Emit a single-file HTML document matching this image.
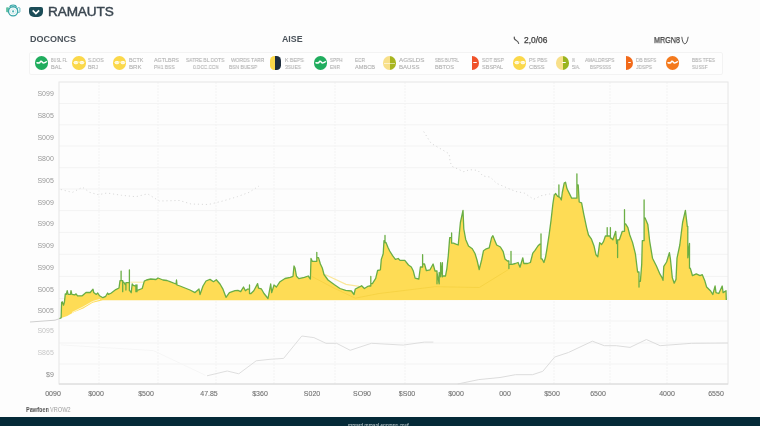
<!DOCTYPE html>
<html><head><meta charset="utf-8"><style>
html,body{margin:0;padding:0;width:760px;height:426px;overflow:hidden;background:#fdfdfd;}
body{position:relative;font-family:"Liberation Sans",sans-serif;}
.t,.yl,.xl,.lg{will-change:transform;}
.t{position:absolute;white-space:nowrap;line-height:1;}
.yl{position:absolute;left:35px;width:18.8px;text-align:right;font-size:7px;line-height:1;color:#999;}
.xl{position:absolute;top:389.5px;font-size:7px;line-height:1;color:#707070;-webkit-text-stroke:0.1px #707070;transform:translateX(-50%);white-space:nowrap;}
.lg{position:absolute;font-size:5.4px;line-height:5.4px;color:#b2b2b2;-webkit-text-stroke:0.12px #b2b2b2;white-space:nowrap;transform-origin:0 0;}
.ci{position:absolute;width:13.5px;height:13.5px;border-radius:50%;top:56px;}
#wrap{position:absolute;left:0;top:0;width:760px;height:426px;filter:blur(0.3px);}
</style></head><body><div id="wrap">
<svg width="760" height="426" viewBox="0 0 760 426" style="position:absolute;left:0;top:0">
<line x1="59" y1="103.5" x2="728" y2="103.5" stroke="#f3f3f3" stroke-width="1"/>
<line x1="59" y1="124.8" x2="728" y2="124.8" stroke="#f3f3f3" stroke-width="1"/>
<line x1="59" y1="146.0" x2="728" y2="146.0" stroke="#f3f3f3" stroke-width="1"/>
<line x1="59" y1="167.7" x2="728" y2="167.7" stroke="#f3f3f3" stroke-width="1"/>
<line x1="59" y1="189.0" x2="728" y2="189.0" stroke="#f3f3f3" stroke-width="1"/>
<line x1="59" y1="210.6" x2="728" y2="210.6" stroke="#f3f3f3" stroke-width="1"/>
<line x1="59" y1="232.4" x2="728" y2="232.4" stroke="#f3f3f3" stroke-width="1"/>
<line x1="59" y1="254.3" x2="728" y2="254.3" stroke="#f3f3f3" stroke-width="1"/>
<line x1="59" y1="276.4" x2="728" y2="276.4" stroke="#f3f3f3" stroke-width="1"/>
<line x1="59" y1="298.5" x2="728" y2="298.5" stroke="#f3f3f3" stroke-width="1"/>
<line x1="59" y1="321.0" x2="728" y2="321.0" stroke="#f3f3f3" stroke-width="1"/>
<line x1="59" y1="343.0" x2="728" y2="343.0" stroke="#f3f3f3" stroke-width="1"/>
<line x1="59" y1="364.0" x2="728" y2="364.0" stroke="#f3f3f3" stroke-width="1"/>
<line x1="99.0" y1="82" x2="99.0" y2="384" stroke="#f3f3f3" stroke-width="1" stroke-dasharray="2,1"/>
<line x1="158.0" y1="82" x2="158.0" y2="384" stroke="#f3f3f3" stroke-width="1" stroke-dasharray="2,1"/>
<line x1="216.0" y1="82" x2="216.0" y2="384" stroke="#f3f3f3" stroke-width="1" stroke-dasharray="2,1"/>
<line x1="274.0" y1="82" x2="274.0" y2="384" stroke="#f3f3f3" stroke-width="1" stroke-dasharray="2,1"/>
<line x1="335.0" y1="82" x2="335.0" y2="384" stroke="#f3f3f3" stroke-width="1" stroke-dasharray="2,1"/>
<line x1="405.0" y1="82" x2="405.0" y2="384" stroke="#f3f3f3" stroke-width="1" stroke-dasharray="2,1"/>
<line x1="554.0" y1="82" x2="554.0" y2="384" stroke="#f3f3f3" stroke-width="1" stroke-dasharray="2,1"/>
<line x1="610.0" y1="82" x2="610.0" y2="384" stroke="#f3f3f3" stroke-width="1" stroke-dasharray="2,1"/>
<line x1="667.0" y1="82" x2="667.0" y2="384" stroke="#f3f3f3" stroke-width="1" stroke-dasharray="2,1"/>
<rect x="59" y="82" width="669" height="302" fill="none" stroke="#e6e6e6" stroke-width="1"/>
<line x1="59" y1="384" x2="728" y2="384" stroke="#d9d9d9" stroke-width="1.2"/>
<polyline points="60.8,189.5 72.4,192.4 82.5,187.2 89.7,192.4 98.4,194.7 107.0,193.0 121.6,195.3 136.0,196.7 147.6,193.8 159.2,201.0 179.5,200.5 191.0,204.0 208.4,204.5 222.9,201.0 237.3,196.7 249.0,192.4 259.0,186.0" fill="none" stroke="#dadada" stroke-width="1" stroke-dasharray="1.2,2.8"/>
<polyline points="423.7,131.6 431.1,143.3 449.1,153.8 450.2,162.3 452.3,166.5 463.9,171.8 469.2,169.7 477.7,170.3 483.0,176.0 490.3,177.1 496.7,183.4 507.3,188.0 515.7,191.5 524.2,193.0 533.7,199.3 541.1,195.7 549.5,194.0 554.8,195.0" fill="none" stroke="#d8d8d8" stroke-width="1" stroke-dasharray="1.2,2.8"/>
<polyline points="60.8,344.9 153.4,350.6 205.5,375.3" fill="none" stroke="#f6f6f6" stroke-width="1"/>
<polyline points="207.0,375.8 227.2,371.0 238.8,373.8 256.2,360.8 270.0,359.3 270.0,359.3 283.6,358.4 301.8,336.0 313.9,337.6 326.0,343.3 336.6,343.3 350.2,350.3 371.4,343.3 403.2,345.1 424.4,342.1 433.4,342.1" fill="none" stroke="#dedede" stroke-width="1"/>
<polyline points="457.7,384.0 478.8,379.6 500.0,377.5 515.4,374.7 532.5,374.7 542.8,371.3 554.7,357.0 568.4,352.5 592.4,341.2 604.3,345.7 616.3,345.7 630.0,347.4 646.4,339.5 660.1,345.7 691.6,343.3 728.0,343.0" fill="none" stroke="#dcdcdc" stroke-width="1"/>
<polyline points="30,322 55,320.2 60.6,318.3" fill="none" stroke="#cfcfcf" stroke-width="1"/>
<polygon points="59.5,318.5 61.1,317.9 61.6,302.4 62.5,301.9 63.5,305.2 64.4,302.4 65.3,293.9 66.3,294.4 67.2,290.6 68.1,294.4 70.5,294.4 71.0,290.6 71.9,294.4 74.7,294.9 76.1,293.9 77.5,295.8 82.2,295.8 86.0,292.5 90.2,292.5 93.0,289.2 93.7,292.5 96.3,294.4 97.7,293.0 99.6,295.8 102.9,297.7 105.7,296.3 107.6,293.0 108.5,294.4 111.3,293.0 115.8,289.6 119.0,288.0 120.0,280.6 121.1,280.6 121.1,271.1 121.1,280.6 121.6,280.6 122.7,280.6 122.7,291.7 122.7,282.2 123.8,282.2 125.3,284.8 125.9,284.8 125.9,290.1 125.9,282.7 128.0,282.7 129.4,282.7 129.4,270.0 129.4,290.6 129.8,290.6 131.2,292.7 132.2,283.8 133.3,285.3 134.8,285.9 135.9,285.9 135.9,291.7 135.9,284.8 137.0,291.7 137.0,284.8 137.0,290.1 138.0,290.1 142.2,288.5 144.3,281.1 146.5,280.0 150.7,279.0 156.0,279.5 158.0,278.0 163.0,280.0 167.0,280.5 170.0,281.7 176.0,284.0 176.5,280.0 177.0,285.0 180.0,286.0 190.0,290.0 195.0,292.6 199.0,289.0 200.0,294.5 203.0,286.0 206.0,281.0 210.0,279.4 213.5,281.7 216.3,279.8 220.0,284.0 222.8,288.8 226.0,297.3 229.4,292.6 235.0,290.7 237.9,290.3 240.7,291.6 243.5,287.0 245.4,290.7 247.3,289.2 249.5,289.2 249.5,285.0 249.5,293.5 251.0,293.5 253.8,290.7 257.6,283.6 258.5,288.0 261.3,288.8 264.0,293.5 268.0,298.5 270.7,284.0 271.7,292.6 274.0,285.0 276.4,287.0 280.0,281.7 285.0,278.5 290.3,277.3 293.0,276.3 294.0,266.0 295.0,268.0 296.5,276.3 298.8,278.6 304.4,277.3 308.2,276.0 310.4,279.0 311.0,258.5 312.3,261.3 315.7,261.3 316.8,261.3 316.8,252.3 316.8,257.6 318.5,257.6 320.4,264.0 322.3,268.0 324.0,274.5 328.0,280.0 334.5,284.8 340.0,288.5 345.7,290.4 351.4,291.0 354.0,294.5 355.3,289.0 360.0,286.7 361.6,285.7 364.4,288.5 367.2,286.7 369.0,286.0 370.8,286.0 370.8,276.4 370.8,283.7 372.4,283.7 375.7,278.4 377.6,270.5 380.4,269.8 381.3,259.4 383.2,253.8 384.0,240.6 385.0,240.6 385.0,235.4 385.0,242.5 386.0,242.5 387.9,247.2 389.7,251.0 392.6,255.7 395.4,259.4 398.2,258.5 400.0,260.4 404.8,260.4 408.5,265.0 411.3,267.0 413.2,270.7 415.1,278.2 418.8,279.0 420.4,267.0 422.6,267.0 422.6,254.7 422.6,264.0 424.5,264.0 426.4,270.7 430.0,269.8 433.1,264.0 435.0,271.0 437.0,271.0 437.0,283.8 437.0,272.5 439.2,283.8 439.2,272.5 439.2,276.8 440.6,272.5 440.6,276.8 440.6,262.7 442.4,276.8 442.4,262.7 442.4,276.0 443.4,276.0 445.5,276.0 446.9,268.3 448.3,255.6 449.7,237.6 451.6,237.6 451.6,232.9 451.6,243.2 453.5,243.2 455.9,244.1 458.2,245.0 460.4,222.5 463.0,210.3 463.8,229.0 465.7,239.4 468.5,246.0 472.3,248.8 475.0,253.5 477.0,260.0 479.2,269.5 481.6,260.0 483.5,250.7 486.3,248.8 489.2,247.9 491.6,237.6 492.9,235.7 494.8,240.4 496.7,245.0 500.4,247.0 503.2,251.6 505.0,259.0 507.4,261.0 508.9,261.0 508.9,268.5 508.9,264.4 510.3,264.4 511.0,264.4 511.0,251.3 511.0,264.4 512.1,264.4 515.3,263.5 518.1,262.5 520.0,267.2 522.8,257.8 523.8,263.5 527.5,263.5 530.4,262.5 532.8,253.1 535.0,250.3 537.9,246.0 539.7,244.2 541.0,244.2 541.0,233.8 541.0,258.8 542.0,258.8 543.9,262.5 545.4,257.8 546.7,250.3 549.1,234.8 551.0,220.7 552.9,203.8 554.2,195.4 555.7,193.5 557.6,196.3 558.9,196.3 558.9,185.0 558.9,197.2 559.8,197.2 561.3,200.0 562.3,192.5 564.2,183.1 565.5,182.2 567.0,188.8 569.8,194.4 571.7,198.2 575.4,198.2 576.9,198.2 576.9,173.8 576.9,185.0 578.2,185.0 579.2,202.0 581.6,202.9 583.8,214.4 586.6,227.6 588.5,235.0 591.3,238.8 594.1,246.3 596.0,254.8 597.8,256.7 599.7,242.6 601.6,244.5 603.5,241.6 605.4,236.0 607.2,236.0 607.2,227.6 607.2,236.0 608.0,236.0 609.1,236.0 610.4,236.0 610.4,227.6 610.4,238.0 611.0,238.0 612.9,239.8 615.7,231.3 616.6,243.5 617.6,243.5 617.6,257.6 617.6,239.8 619.4,239.8 622.3,231.3 624.5,231.3 624.5,209.7 624.5,223.8 625.6,223.8 627.9,227.6 629.8,235.0 632.6,242.6 635.4,253.8 637.6,272.0 639.0,272.0 639.0,287.0 639.0,281.3 640.4,281.3 641.7,264.4 642.3,240.7 644.1,240.7 644.1,200.0 644.1,217.8 645.0,217.8 647.8,224.4 649.7,241.3 652.5,258.2 656.3,265.7 660.0,274.2 662.0,277.6 663.0,280.4 663.8,266.3 666.6,262.0 669.4,252.6 670.4,258.8 672.3,277.6 674.2,283.2 676.0,279.4 677.0,258.2 679.8,245.0 682.6,222.5 685.4,210.3 687.3,226.3 687.8,226.3 687.8,257.8 687.8,243.5 689.5,257.8 689.5,243.5 689.5,268.2 690.3,268.2 692.5,275.7 696.3,273.8 700.0,275.7 702.3,274.7 704.7,280.4 706.6,287.0 710.4,290.7 712.8,294.5 715.1,286.0 716.0,292.6 718.8,293.5 722.2,286.0 723.1,292.6 726.0,290.7 726.3,300.0 102.8,300.3 92.6,302.8 83.2,308.5 73.8,312.2 67.2,316.0 60.5,318.3" fill="#fedc55"/>
<polyline points="325.0,274.5 346.0,284.3 359.2,286.3" fill="none" stroke="#fbe79a" stroke-width="1.2"/>
<polyline points="311.8,276.4 332.9,287.6 355.3,298.2 379.0,293.5 400.0,291.0 435.0,286.7 479.3,287.5 508.2,269.7" fill="none" stroke="#f5d040" stroke-width="0.8"/>
<polyline points="130.6,282.2 143.3,282.2" fill="none" stroke="#fbeaa0" stroke-width="1"/>
<polyline points="72,312.5 83,307 92.6,301.5 100,299.3" fill="none" stroke="#fff6d0" stroke-width="1"/>
<polyline points="59.5,318.5 61.1,317.9 61.6,302.4 62.5,301.9 63.5,305.2 64.4,302.4 65.3,293.9 66.3,294.4 67.2,290.6 68.1,294.4 70.5,294.4 71.0,290.6 71.9,294.4 74.7,294.9 76.1,293.9 77.5,295.8 82.2,295.8 86.0,292.5 90.2,292.5 93.0,289.2 93.7,292.5 96.3,294.4 97.7,293.0 99.6,295.8 102.9,297.7 105.7,296.3 107.6,293.0 108.5,294.4 111.3,293.0 115.8,289.6 119.0,288.0 120.0,280.6 121.1,280.6 121.1,271.1 121.1,280.6 121.6,280.6 122.7,280.6 122.7,291.7 122.7,282.2 123.8,282.2 125.3,284.8 125.9,284.8 125.9,290.1 125.9,282.7 128.0,282.7 129.4,282.7 129.4,270.0 129.4,290.6 129.8,290.6 131.2,292.7 132.2,283.8 133.3,285.3 134.8,285.9 135.9,285.9 135.9,291.7 135.9,284.8 137.0,291.7 137.0,284.8 137.0,290.1 138.0,290.1 142.2,288.5 144.3,281.1 146.5,280.0 150.7,279.0 156.0,279.5 158.0,278.0 163.0,280.0 167.0,280.5 170.0,281.7 176.0,284.0 176.5,280.0 177.0,285.0 180.0,286.0 190.0,290.0 195.0,292.6 199.0,289.0 200.0,294.5 203.0,286.0 206.0,281.0 210.0,279.4 213.5,281.7 216.3,279.8 220.0,284.0 222.8,288.8 226.0,297.3 229.4,292.6 235.0,290.7 237.9,290.3 240.7,291.6 243.5,287.0 245.4,290.7 247.3,289.2 249.5,289.2 249.5,285.0 249.5,293.5 251.0,293.5 253.8,290.7 257.6,283.6 258.5,288.0 261.3,288.8 264.0,293.5 268.0,298.5 270.7,284.0 271.7,292.6 274.0,285.0 276.4,287.0 280.0,281.7 285.0,278.5 290.3,277.3 293.0,276.3 294.0,266.0 295.0,268.0 296.5,276.3 298.8,278.6 304.4,277.3 308.2,276.0 310.4,279.0 311.0,258.5 312.3,261.3 315.7,261.3 316.8,261.3 316.8,252.3 316.8,257.6 318.5,257.6 320.4,264.0 322.3,268.0 324.0,274.5 328.0,280.0 334.5,284.8 340.0,288.5 345.7,290.4 351.4,291.0 354.0,294.5 355.3,289.0 360.0,286.7 361.6,285.7 364.4,288.5 367.2,286.7 369.0,286.0 370.8,286.0 370.8,276.4 370.8,283.7 372.4,283.7 375.7,278.4 377.6,270.5 380.4,269.8 381.3,259.4 383.2,253.8 384.0,240.6 385.0,240.6 385.0,235.4 385.0,242.5 386.0,242.5 387.9,247.2 389.7,251.0 392.6,255.7 395.4,259.4 398.2,258.5 400.0,260.4 404.8,260.4 408.5,265.0 411.3,267.0 413.2,270.7 415.1,278.2 418.8,279.0 420.4,267.0 422.6,267.0 422.6,254.7 422.6,264.0 424.5,264.0 426.4,270.7 430.0,269.8 433.1,264.0 435.0,271.0 437.0,271.0 437.0,283.8 437.0,272.5 439.2,283.8 439.2,272.5 439.2,276.8 440.6,272.5 440.6,276.8 440.6,262.7 442.4,276.8 442.4,262.7 442.4,276.0 443.4,276.0 445.5,276.0 446.9,268.3 448.3,255.6 449.7,237.6 451.6,237.6 451.6,232.9 451.6,243.2 453.5,243.2 455.9,244.1 458.2,245.0 460.4,222.5 463.0,210.3 463.8,229.0 465.7,239.4 468.5,246.0 472.3,248.8 475.0,253.5 477.0,260.0 479.2,269.5 481.6,260.0 483.5,250.7 486.3,248.8 489.2,247.9 491.6,237.6 492.9,235.7 494.8,240.4 496.7,245.0 500.4,247.0 503.2,251.6 505.0,259.0 507.4,261.0 508.9,261.0 508.9,268.5 508.9,264.4 510.3,264.4 511.0,264.4 511.0,251.3 511.0,264.4 512.1,264.4 515.3,263.5 518.1,262.5 520.0,267.2 522.8,257.8 523.8,263.5 527.5,263.5 530.4,262.5 532.8,253.1 535.0,250.3 537.9,246.0 539.7,244.2 541.0,244.2 541.0,233.8 541.0,258.8 542.0,258.8 543.9,262.5 545.4,257.8 546.7,250.3 549.1,234.8 551.0,220.7 552.9,203.8 554.2,195.4 555.7,193.5 557.6,196.3 558.9,196.3 558.9,185.0 558.9,197.2 559.8,197.2 561.3,200.0 562.3,192.5 564.2,183.1 565.5,182.2 567.0,188.8 569.8,194.4 571.7,198.2 575.4,198.2 576.9,198.2 576.9,173.8 576.9,185.0 578.2,185.0 579.2,202.0 581.6,202.9 583.8,214.4 586.6,227.6 588.5,235.0 591.3,238.8 594.1,246.3 596.0,254.8 597.8,256.7 599.7,242.6 601.6,244.5 603.5,241.6 605.4,236.0 607.2,236.0 607.2,227.6 607.2,236.0 608.0,236.0 609.1,236.0 610.4,236.0 610.4,227.6 610.4,238.0 611.0,238.0 612.9,239.8 615.7,231.3 616.6,243.5 617.6,243.5 617.6,257.6 617.6,239.8 619.4,239.8 622.3,231.3 624.5,231.3 624.5,209.7 624.5,223.8 625.6,223.8 627.9,227.6 629.8,235.0 632.6,242.6 635.4,253.8 637.6,272.0 639.0,272.0 639.0,287.0 639.0,281.3 640.4,281.3 641.7,264.4 642.3,240.7 644.1,240.7 644.1,200.0 644.1,217.8 645.0,217.8 647.8,224.4 649.7,241.3 652.5,258.2 656.3,265.7 660.0,274.2 662.0,277.6 663.0,280.4 663.8,266.3 666.6,262.0 669.4,252.6 670.4,258.8 672.3,277.6 674.2,283.2 676.0,279.4 677.0,258.2 679.8,245.0 682.6,222.5 685.4,210.3 687.3,226.3 687.8,226.3 687.8,257.8 687.8,243.5 689.5,257.8 689.5,243.5 689.5,268.2 690.3,268.2 692.5,275.7 696.3,273.8 700.0,275.7 702.3,274.7 704.7,280.4 706.6,287.0 710.4,290.7 712.8,294.5 715.1,286.0 716.0,292.6 718.8,293.5 722.2,286.0 723.1,292.6 726.0,290.7 726.3,300.0" fill="none" stroke="#6aae44" stroke-width="1.3" stroke-linejoin="round"/>
</svg>
<svg width="24" height="20" viewBox="0 0 24 20" style="position:absolute;left:0;top:0">
<path d="M9.8 7 Q10.2 5 13.1 5 Q16 5 16.4 7" fill="#d6efee" stroke="#3aa6a8" stroke-width="1.2"/>
<rect x="6.1" y="7.3" width="2.8" height="5" rx="0.8" fill="#62c2a2"/>
<rect x="17.5" y="7.7" width="2.4" height="4.7" rx="0.8" fill="#fff" stroke="#4aaeb4" stroke-width="0.9"/>
<circle cx="13.1" cy="11.3" r="4.6" fill="#fff" stroke="#3aa6a8" stroke-width="1.4"/>
<circle cx="13.1" cy="11.4" r="2.6" fill="none" stroke="#cdeaea" stroke-width="1"/>
<circle cx="13.1" cy="11.4" r="1.1" fill="#4fb6b8"/>
</svg>
<div style="position:absolute;left:29.3px;top:6.6px;width:13.8px;height:10.2px;background:#1b4c57;border-radius:2px 2px 5px 5px;"></div>
<svg width="14" height="10" viewBox="0 0 14 10" style="position:absolute;left:29.3px;top:6.6px"><path d="M3.7 3.4 L6.9 6.6 L10.1 3.4" fill="none" stroke="#fff" stroke-width="1.7"/></svg>
<div class="t" style="left:47.8px;top:4.5px;font-size:13.6px;color:#3a4650;-webkit-text-stroke:0.45px #3a4650;letter-spacing:-0.12px;">RAMAUTS</div>
<div class="t" style="left:30px;top:34.8px;font-size:9px;font-weight:bold;color:#4a525a;">DOCONCS</div>
<div class="t" style="left:282px;top:35px;font-size:8.8px;font-weight:bold;color:#4a525a;">AISE</div>
<svg width="10" height="12" style="position:absolute;left:512px;top:34px"><path d="M2.4 2.6 Q1.6 5 4 6.2 Q6.4 7.4 6.8 9.8" fill="none" stroke="#555" stroke-width="1.1"/></svg>
<div class="t" style="left:523.5px;top:35.5px;font-size:8.4px;color:#3e3e3e;-webkit-text-stroke:0.25px #3e3e3e;">2,0/06</div>
<div class="t" style="left:653.5px;top:35.5px;font-size:8.4px;color:#3e3e3e;-webkit-text-stroke:0.25px #3e3e3e;transform:scaleX(0.86);transform-origin:0 0;">MRGN8</div>
<svg width="10" height="12" style="position:absolute;left:680px;top:35px"><path d="M1.8 1.8 Q2.6 8.8 4.8 8.8 Q7 8.8 8.2 1.8" fill="none" stroke="#555" stroke-width="1"/></svg>
<div style="position:absolute;left:29px;top:51.6px;width:691.5px;height:21.4px;border:1px solid #f3f3f3;border-radius:2px;background:#fefefe"></div>
<div class="ci" style="left:34.9px;background:#20ad5e"></div>
<svg width="14" height="14" style="position:absolute;left:34.9px;top:56px"><path d="M2 6.8 Q3.6 7.3 4.9 6.5 Q5.9 4.5 6.9 5.7 Q7.7 7.3 9.1 6.9 Q10.5 6.5 11.3 5.8" fill="none" stroke="#fff" stroke-width="1.5" stroke-linecap="round"/></svg>
<div class="lg" style="left:50.5px;top:57.5px;transform:scaleX(0.737)">BUSL FL</div>
<div class="lg" style="left:50.5px;top:65.1px;transform:scaleX(1.039)">BAL</div>
<div class="ci" style="left:72.4px;background:#fbd84a"></div>
<svg width="14" height="14" style="position:absolute;left:72.4px;top:56px"><ellipse cx="3.9" cy="6.6" rx="2" ry="1.2" fill="#fff6c8" stroke="#fff" stroke-width="0.9"/><ellipse cx="9.9" cy="6.6" rx="2" ry="1.2" fill="#fff6c8" stroke="#fff" stroke-width="0.9"/><path d="M5.9 6.4 Q6.9 4.4 7.9 6.4" fill="none" stroke="#fff3a0" stroke-width="0.9"/></svg>
<div class="lg" style="left:88.0px;top:57.5px;transform:scaleX(0.928)">S.DOS</div>
<div class="lg" style="left:88.0px;top:65.1px;transform:scaleX(0.980)">BRJ</div>
<div class="ci" style="left:112.8px;background:#fbd84a"></div>
<svg width="14" height="14" style="position:absolute;left:112.8px;top:56px"><ellipse cx="3.9" cy="6.6" rx="2" ry="1.2" fill="#fff6c8" stroke="#fff" stroke-width="0.9"/><ellipse cx="9.9" cy="6.6" rx="2" ry="1.2" fill="#fff6c8" stroke="#fff" stroke-width="0.9"/><path d="M5.9 6.4 Q6.9 4.4 7.9 6.4" fill="none" stroke="#fff3a0" stroke-width="0.9"/></svg>
<div class="lg" style="left:129.4px;top:57.5px;transform:scaleX(1.000)">BCTK</div>
<div class="lg" style="left:129.4px;top:65.1px;transform:scaleX(1.126)">BRK</div>
<div class="lg" style="left:153.8px;top:57.5px;transform:scaleX(0.992)">AGTLBRS</div>
<div class="lg" style="left:153.8px;top:65.1px;transform:scaleX(0.903)">PH1 BSS</div>
<div class="lg" style="left:186.0px;top:57.5px;transform:scaleX(0.916)">SATRE BL DOTS</div>
<div class="lg" style="left:192.9px;top:65.1px;transform:scaleX(0.874)">0.DCC.CCN</div>
<div class="lg" style="left:231.4px;top:57.5px;transform:scaleX(0.915)">WORDS TARR</div>
<div class="lg" style="left:228.8px;top:65.1px;transform:scaleX(0.912)">BSN BUESP</div>
<div style="position:absolute;left:270.0px;top:56px;width:10.6px;height:13.6px;border-radius:4.5px;background:linear-gradient(90deg,#fbd84a 50%,#1e2d3d 50%)"></div>
<div class="lg" style="left:285.0px;top:57.5px;transform:scaleX(0.961)">K BEPS</div>
<div class="lg" style="left:285.0px;top:65.1px;transform:scaleX(0.904)">3SUES</div>
<div class="ci" style="left:313.8px;background:#20ad5e"></div>
<svg width="14" height="14" style="position:absolute;left:313.8px;top:56px"><path d="M2 6.8 Q3.6 7.3 4.9 6.5 Q5.9 4.5 6.9 5.7 Q7.7 7.3 9.1 6.9 Q10.5 6.5 11.3 5.8" fill="none" stroke="#fff" stroke-width="1.5" stroke-linecap="round"/></svg>
<div class="lg" style="left:330.0px;top:57.5px;transform:scaleX(0.850)">SPPH</div>
<div class="lg" style="left:330.0px;top:65.1px;transform:scaleX(0.877)">ENR</div>
<div class="lg" style="left:355.0px;top:57.5px;transform:scaleX(0.877)">ECR</div>
<div class="lg" style="left:355.0px;top:65.1px;transform:scaleX(1.041)">AMBCB</div>
<div class="ci" style="left:382.8px;width:13px;background:linear-gradient(90deg,#f8e08a 50%,#a8b520 50%)"></div>
<div style="position:absolute;left:383.8px;top:62.5px;width:11px;height:0.8px;background:rgba(255,255,255,0.55)"></div>
<div class="lg" style="left:399.4px;top:57.5px;transform:scaleX(1.168)">AGSLDS</div>
<div class="lg" style="left:399.4px;top:65.1px;transform:scaleX(1.125)">BAUSS</div>
<div class="lg" style="left:434.8px;top:57.5px;transform:scaleX(0.800)">SBS BUTRL</div>
<div class="lg" style="left:434.8px;top:65.1px;transform:scaleX(1.044)">BBTOS</div>
<div style="position:absolute;left:471.5px;top:56px;width:7.3px;height:13.5px;border-radius:0 7px 7px 0;background:#f0522a"></div>
<div style="position:absolute;left:473.1px;top:61.8px;width:3.6px;height:1.6px;border-radius:1px 1px 0 0;background:#fff"></div>
<div class="lg" style="left:481.9px;top:57.5px;transform:scaleX(0.940)">SOT BSP</div>
<div class="lg" style="left:481.9px;top:65.1px;transform:scaleX(1.029)">SBSPAL</div>
<div class="ci" style="left:512.5px;background:#fbd84a"></div>
<svg width="14" height="14" style="position:absolute;left:512.5px;top:56px"><ellipse cx="3.9" cy="6.6" rx="2" ry="1.2" fill="#fff6c8" stroke="#fff" stroke-width="0.9"/><ellipse cx="9.9" cy="6.6" rx="2" ry="1.2" fill="#fff6c8" stroke="#fff" stroke-width="0.9"/><path d="M5.9 6.4 Q6.9 4.4 7.9 6.4" fill="none" stroke="#fff3a0" stroke-width="0.9"/></svg>
<div class="lg" style="left:528.8px;top:57.5px;transform:scaleX(0.928)">PS PBS</div>
<div class="lg" style="left:528.8px;top:65.1px;transform:scaleX(1.061)">CBSS</div>
<div class="ci" style="left:556.2px;width:13px;background:linear-gradient(90deg,#f8e08a 50%,#9ab41e 50%)"></div>
<div style="position:absolute;left:562.2px;top:61.8px;width:3.6px;height:1.6px;border-radius:1px 1px 0 0;background:#fff"></div>
<div class="lg" style="left:572.2px;top:57.5px;transform:scaleX(0.509)">IN</div>
<div class="lg" style="left:572.2px;top:65.1px;transform:scaleX(0.875)">5IA.</div>
<div class="lg" style="left:585.0px;top:57.5px;transform:scaleX(0.883)">AMALDRSPS</div>
<div class="lg" style="left:590.0px;top:65.1px;transform:scaleX(0.843)">BSPSSSS</div>
<div style="position:absolute;left:626.2px;top:56px;width:7.3px;height:13.5px;border-radius:0 7px 7px 0;background:#f26a1a"></div>
<div style="position:absolute;left:627.9px;top:61.8px;width:3.6px;height:1.6px;border-radius:1px 1px 0 0;background:#fff"></div>
<div class="lg" style="left:636.0px;top:57.5px;transform:scaleX(0.876)">DB BSFS</div>
<div class="lg" style="left:636.0px;top:65.1px;transform:scaleX(0.919)">JDSPS</div>
<div class="ci" style="left:665.6px;background:#f47a1e"></div>
<svg width="14" height="14" style="position:absolute;left:665.6px;top:56px"><path d="M2 6.8 Q3.6 7.3 4.9 6.5 Q5.9 4.5 6.9 5.7 Q7.7 7.3 9.1 6.9 Q10.5 6.5 11.3 5.8" fill="none" stroke="#fff" stroke-width="1.5" stroke-linecap="round"/></svg>
<div class="lg" style="left:691.9px;top:57.5px;transform:scaleX(0.888)">BBS TFES</div>
<div class="lg" style="left:691.9px;top:65.1px;transform:scaleX(0.866)">SUSSF</div>
<div class="yl" style="top:90.0px;color:#999">S099</div>
<div class="yl" style="top:112.0px;color:#999">S805</div>
<div class="yl" style="top:133.6px;color:#999">S009</div>
<div class="yl" style="top:154.9px;color:#999">S800</div>
<div class="yl" style="top:177.0px;color:#999">S905</div>
<div class="yl" style="top:198.8px;color:#999">S909</div>
<div class="yl" style="top:219.8px;color:#999">S909</div>
<div class="yl" style="top:241.8px;color:#999">S909</div>
<div class="yl" style="top:264.0px;color:#999">S909</div>
<div class="yl" style="top:285.5px;color:#999">S005</div>
<div class="yl" style="top:307.1px;color:#999">S005</div>
<div class="yl" style="top:327.4px;color:#c4c4c4">S095</div>
<div class="yl" style="top:349.3px;color:#c8c8c8">S865</div>
<div class="yl" style="top:371.1px;color:#888">$9</div>
<div class="xl" style="left:52.8px">0090</div>
<div class="xl" style="left:96.0px">$000</div>
<div class="xl" style="left:146.0px">$500</div>
<div class="xl" style="left:208.5px">47.85</div>
<div class="xl" style="left:260.0px">$360</div>
<div class="xl" style="left:312.4px">S020</div>
<div class="xl" style="left:362.0px">SO90</div>
<div class="xl" style="left:407.4px">$S00</div>
<div class="xl" style="left:456.0px">$000</div>
<div class="xl" style="left:505.3px">000</div>
<div class="xl" style="left:552.0px">$500</div>
<div class="xl" style="left:598.0px">6500</div>
<div class="xl" style="left:667.0px">4000</div>
<div class="xl" style="left:716.4px">6550</div>
<div class="t" style="left:26px;top:405.5px;font-size:7px;font-weight:bold;color:#555;transform:scaleX(0.8);transform-origin:0 0">Pawfoen</div>
<div class="t" style="left:50px;top:405.5px;font-size:7px;color:#9d9d9d;transform:scaleX(0.8);transform-origin:0 0">VROW2</div>
<div style="position:absolute;left:0;top:417.3px;width:760px;height:9.7px;background:#052a38"></div>
<div class="t" style="left:348.3px;top:423px;font-size:6.5px;color:#c9d3d6;transform:scaleX(0.75);transform-origin:0 0">mmard mmanl ennmnn cnuf</div>
</div></body></html>
